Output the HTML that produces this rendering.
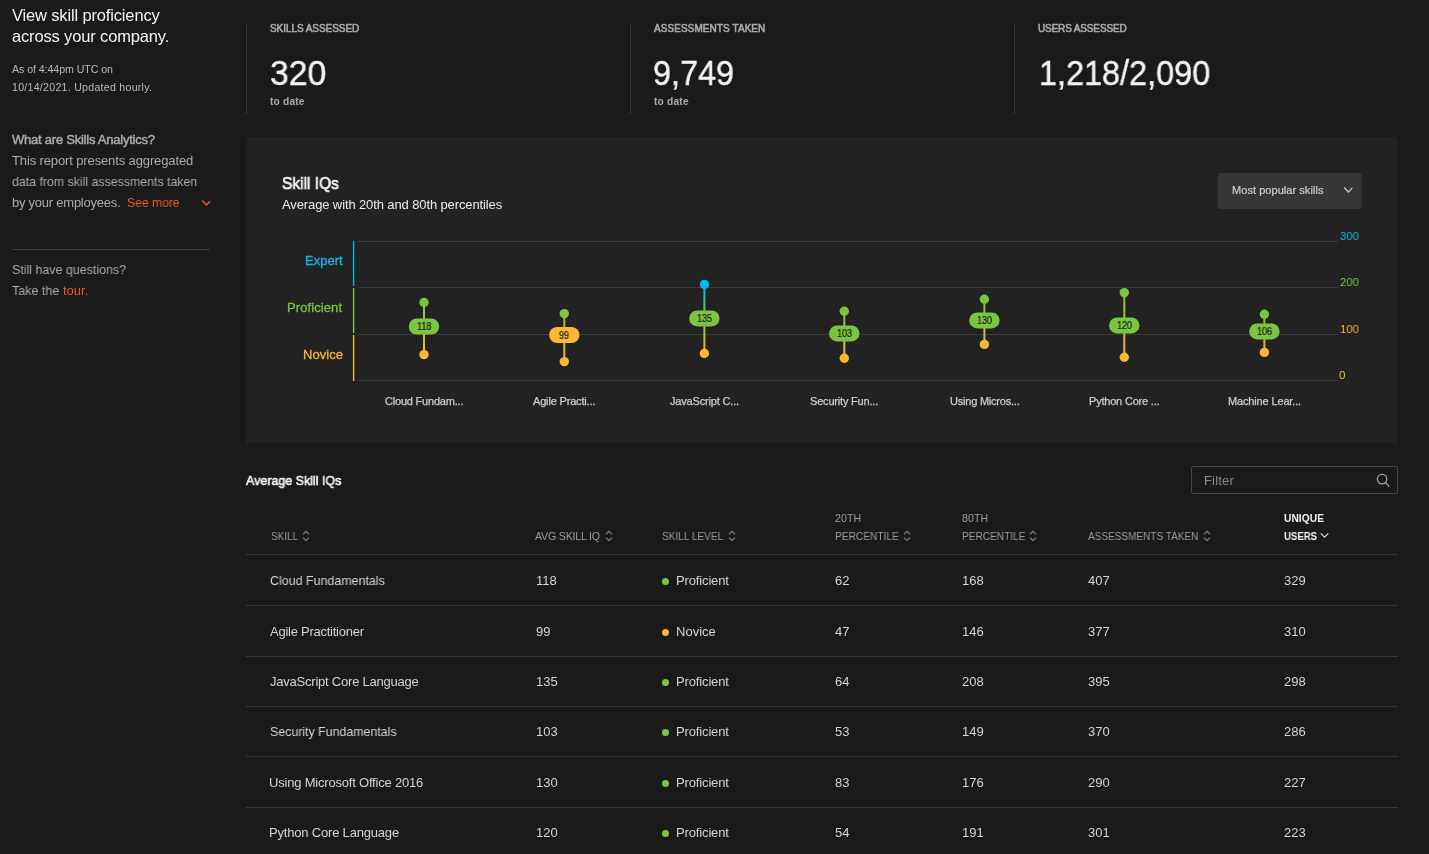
<!DOCTYPE html>
<html><head><meta charset="utf-8"><title>Skills Analytics</title>
<style>
html,body{margin:0;padding:0;background:#1a1a1a;width:1429px;height:854px;overflow:hidden;position:relative;font-family:"Liberation Sans",sans-serif}
.t{position:absolute;white-space:nowrap;will-change:transform}
</style></head><body>
<svg style="position:absolute;left:196px;top:194px" width="20" height="20" viewBox="0 0 20 20"><path d="M6.3 6.6 L10.4 10.9 L14 7.2" fill="none" stroke="#f05a28" stroke-width="1.5"/></svg><div style="position:absolute;left:12px;top:249px;width:198px;height:1px;background:#3d3d3d"></div><div style="position:absolute;left:246px;top:24px;width:1px;height:90px;background:#3a3a3a"></div><div style="position:absolute;left:630px;top:24px;width:1px;height:90px;background:#3a3a3a"></div><div style="position:absolute;left:1014px;top:24px;width:1px;height:90px;background:#3a3a3a"></div><div style="position:absolute;left:246px;top:137px;width:1152px;height:306px;background:#222222"></div><div style="position:absolute;left:1218px;top:173px;width:144px;height:36px;background:#363636;border-radius:2px"></div><svg style="position:absolute;left:1342px;top:185px" width="12" height="10" viewBox="0 0 12 10"><path d="M2.2 2.5 L6.4 7.1 L10.3 2.9" fill="none" stroke="#cfcfcf" stroke-width="1.3"/></svg><div style="position:absolute;left:358px;top:241px;width:980px;height:1px;background:#3b3b3b"></div><div style="position:absolute;left:358px;top:287px;width:980px;height:1px;background:#3b3b3b"></div><div style="position:absolute;left:358px;top:334px;width:980px;height:1px;background:#3b3b3b"></div><div style="position:absolute;left:358px;top:380px;width:980px;height:1px;background:#3b3b3b"></div><svg style="position:absolute;left:350px;top:238px" width="8" height="146"><rect x="2.9" y="3" width="1.4" height="45" fill="#00b6ef"/><rect x="2.9" y="50" width="1.4" height="45" fill="#7cc540"/><rect x="2.9" y="97" width="1.4" height="46" fill="#f9b733"/></svg><svg style="position:absolute;left:0;top:0" width="1429" height="854" viewBox="0 0 1429 854"><defs><linearGradient id="g0" x1="0" y1="302.5" x2="0" y2="354.6" gradientUnits="userSpaceOnUse"><stop offset="0" stop-color="#7cc540"/><stop offset="1" stop-color="#f9b733"/></linearGradient><linearGradient id="g1" x1="0" y1="313.6" x2="0" y2="361.6" gradientUnits="userSpaceOnUse"><stop offset="0" stop-color="#7cc540"/><stop offset="1" stop-color="#f9b733"/></linearGradient><linearGradient id="g2" x1="0" y1="284.4" x2="0" y2="353.4" gradientUnits="userSpaceOnUse"><stop offset="0" stop-color="#00b6ef"/><stop offset="0.5" stop-color="#7cc540"/><stop offset="1" stop-color="#f9b733"/></linearGradient><linearGradient id="g3" x1="0" y1="311.3" x2="0" y2="358.2" gradientUnits="userSpaceOnUse"><stop offset="0" stop-color="#7cc540"/><stop offset="1" stop-color="#f9b733"/></linearGradient><linearGradient id="g4" x1="0" y1="299.3" x2="0" y2="344.4" gradientUnits="userSpaceOnUse"><stop offset="0" stop-color="#7cc540"/><stop offset="1" stop-color="#f9b733"/></linearGradient><linearGradient id="g5" x1="0" y1="292.6" x2="0" y2="357.3" gradientUnits="userSpaceOnUse"><stop offset="0" stop-color="#7cc540"/><stop offset="1" stop-color="#f9b733"/></linearGradient><linearGradient id="g6" x1="0" y1="314.3" x2="0" y2="352.4" gradientUnits="userSpaceOnUse"><stop offset="0" stop-color="#7cc540"/><stop offset="1" stop-color="#f9b733"/></linearGradient></defs><rect x="423" y="302.5" width="2" height="52.10000000000002" fill="url(#g0)"/><circle cx="424" cy="302.5" r="4.7" fill="#7cc540"/><circle cx="424" cy="354.6" r="4.7" fill="#f9b733"/><rect x="408.8" y="318.5" width="30.4" height="16" rx="8" fill="#7cc540"/><rect x="563.3" y="313.6" width="2" height="48.0" fill="url(#g1)"/><circle cx="564.3" cy="313.6" r="4.7" fill="#7cc540"/><circle cx="564.3" cy="361.6" r="4.7" fill="#f9b733"/><rect x="549.0999999999999" y="327" width="30.4" height="16" rx="8" fill="#f9b733"/><rect x="703.4" y="284.4" width="2" height="69.0" fill="url(#g2)"/><circle cx="704.4" cy="284.4" r="4.7" fill="#00b6ef"/><circle cx="704.4" cy="353.4" r="4.7" fill="#f9b733"/><rect x="689.1999999999999" y="310.4" width="30.4" height="16" rx="8" fill="#7cc540"/><rect x="843.3" y="311.3" width="2" height="46.89999999999998" fill="url(#g3)"/><circle cx="844.3" cy="311.3" r="4.7" fill="#7cc540"/><circle cx="844.3" cy="358.2" r="4.7" fill="#f9b733"/><rect x="829.0999999999999" y="325.4" width="30.4" height="16" rx="8" fill="#7cc540"/><rect x="983.4" y="299.3" width="2" height="45.099999999999966" fill="url(#g4)"/><circle cx="984.4" cy="299.3" r="4.7" fill="#7cc540"/><circle cx="984.4" cy="344.4" r="4.7" fill="#f9b733"/><rect x="969.1999999999999" y="312.4" width="30.4" height="16" rx="8" fill="#7cc540"/><rect x="1123.3" y="292.6" width="2" height="64.69999999999999" fill="url(#g5)"/><circle cx="1124.3" cy="292.6" r="4.7" fill="#7cc540"/><circle cx="1124.3" cy="357.3" r="4.7" fill="#f9b733"/><rect x="1109.1" y="317.4" width="30.4" height="16" rx="8" fill="#7cc540"/><rect x="1263.4" y="314.3" width="2" height="38.099999999999966" fill="url(#g6)"/><circle cx="1264.4" cy="314.3" r="4.7" fill="#7cc540"/><circle cx="1264.4" cy="352.4" r="4.7" fill="#f9b733"/><rect x="1249.2" y="323.4" width="30.4" height="16" rx="8" fill="#7cc540"/></svg><div style="position:absolute;left:1191px;top:466px;width:205px;height:26px;border:1px solid #474747;border-radius:2px"></div><svg style="position:absolute;left:1372px;top:470px" width="20" height="20" viewBox="0 0 20 20"><circle cx="10.1" cy="9.1" r="4.7" fill="none" stroke="#a0a0a0" stroke-width="1.3"/><path d="M13.4 12.4 L17.2 16.6" stroke="#a0a0a0" stroke-width="1.4"/></svg><svg style="position:absolute;left:299.5px;top:526px" width="12" height="20" viewBox="0 0 12 20"><path d="M3.1 8.3 L6 5.2 L8.9 8.3 M3.1 11.8 L6 14.6 L8.9 11.8" fill="none" stroke="#747474" stroke-width="1.35"/></svg><svg style="position:absolute;left:602.5px;top:526px" width="12" height="20" viewBox="0 0 12 20"><path d="M3.1 8.3 L6 5.2 L8.9 8.3 M3.1 11.8 L6 14.6 L8.9 11.8" fill="none" stroke="#747474" stroke-width="1.35"/></svg><svg style="position:absolute;left:725.5px;top:526px" width="12" height="20" viewBox="0 0 12 20"><path d="M3.1 8.3 L6 5.2 L8.9 8.3 M3.1 11.8 L6 14.6 L8.9 11.8" fill="none" stroke="#747474" stroke-width="1.35"/></svg><svg style="position:absolute;left:900.5px;top:526px" width="12" height="20" viewBox="0 0 12 20"><path d="M3.1 8.3 L6 5.2 L8.9 8.3 M3.1 11.8 L6 14.6 L8.9 11.8" fill="none" stroke="#747474" stroke-width="1.35"/></svg><svg style="position:absolute;left:1027.3px;top:526px" width="12" height="20" viewBox="0 0 12 20"><path d="M3.1 8.3 L6 5.2 L8.9 8.3 M3.1 11.8 L6 14.6 L8.9 11.8" fill="none" stroke="#747474" stroke-width="1.35"/></svg><svg style="position:absolute;left:1200.5px;top:526px" width="12" height="20" viewBox="0 0 12 20"><path d="M3.1 8.3 L6 5.2 L8.9 8.3 M3.1 11.8 L6 14.6 L8.9 11.8" fill="none" stroke="#747474" stroke-width="1.35"/></svg><svg style="position:absolute;left:1319px;top:531px" width="11" height="9" viewBox="0 0 11 9"><path d="M1.7 2.3 L5.5 6.1 L9.3 2.3" fill="none" stroke="#d8d8d8" stroke-width="1.15"/></svg><div style="position:absolute;left:246px;top:554px;width:1152px;height:1px;background:#363636"></div><div style="position:absolute;left:246px;top:605px;width:1152px;height:1px;background:#363636"></div><div style="position:absolute;left:246px;top:656px;width:1152px;height:1px;background:#363636"></div><div style="position:absolute;left:246px;top:706px;width:1152px;height:1px;background:#363636"></div><div style="position:absolute;left:246px;top:756px;width:1152px;height:1px;background:#363636"></div><div style="position:absolute;left:246px;top:807px;width:1152px;height:1px;background:#363636"></div><div style="position:absolute;left:661.8px;top:577.9px;width:7.2px;height:7.2px;border-radius:50%;background:#7cc540"></div><div style="position:absolute;left:661.8px;top:628.7px;width:7.2px;height:7.2px;border-radius:50%;background:#f9b733"></div><div style="position:absolute;left:661.8px;top:679.1px;width:7.2px;height:7.2px;border-radius:50%;background:#7cc540"></div><div style="position:absolute;left:661.8px;top:729.2px;width:7.2px;height:7.2px;border-radius:50%;background:#7cc540"></div><div style="position:absolute;left:661.8px;top:779.8px;width:7.2px;height:7.2px;border-radius:50%;background:#7cc540"></div><div style="position:absolute;left:661.8px;top:830.2px;width:7.2px;height:7.2px;border-radius:50%;background:#7cc540"></div>
<div class="t" style="left:12.00px;top:6.47px;font-size:16.5px;line-height:18.430px;font-weight:400;color:#f3f3f3;letter-spacing:-0.155px">View skill proficiency</div><div class="t" style="left:12.00px;top:27.47px;font-size:16.5px;line-height:18.430px;font-weight:400;color:#f3f3f3;letter-spacing:-0.152px">across your company.</div><div class="t" style="left:12.00px;top:64.11px;font-size:10.6px;line-height:11.840px;font-weight:400;color:#b9b9b9;letter-spacing:-0.054px">As of 4:44pm UTC on</div><div class="t" style="left:12.00px;top:81.81px;font-size:10.6px;line-height:11.840px;font-weight:400;color:#b9b9b9;letter-spacing:0.270px">10/14/2021. Updated hourly.</div><div class="t" style="left:12.00px;top:132.84px;font-size:13px;line-height:14.521px;font-weight:400;color:#ababab;letter-spacing:-0.233px;-webkit-text-stroke:0.45px #ababab">What are Skills Analytics?</div><div class="t" style="left:12.00px;top:153.74px;font-size:13px;line-height:14.521px;font-weight:400;color:#ababab;letter-spacing:-0.126px">This report presents aggregated</div><div class="t" style="left:12.00px;top:174.84px;font-size:13px;line-height:14.521px;font-weight:400;color:#ababab;letter-spacing:0.000px;transform:scaleX(0.9495);transform-origin:0 0">data from skill assessments taken</div><div class="t" style="left:12.00px;top:195.63px;font-size:13px;line-height:14.521px;font-weight:400;color:#ababab;letter-spacing:-0.242px">by your employees.</div><div class="t" style="left:126.80px;top:196.00px;font-size:12.6px;line-height:14.074px;font-weight:400;color:#f05a28;letter-spacing:0.000px;transform:scaleX(0.9616);transform-origin:0 0">See more</div><div class="t" style="left:12.30px;top:263.04px;font-size:13px;line-height:14.521px;font-weight:400;color:#ababab;letter-spacing:0.000px;transform:scaleX(0.9571);transform-origin:0 0">Still have questions?</div><div class="t" style="left:12.30px;top:283.74px;font-size:13px;line-height:14.521px;font-weight:400;color:#ababab;letter-spacing:0.000px;transform:scaleX(0.9609);transform-origin:0 0">Take the</div><div class="t" style="left:63.10px;top:283.74px;font-size:13px;line-height:14.521px;font-weight:400;color:#f05a28;letter-spacing:0.004px">tour.</div><div class="t" style="left:270.00px;top:22.65px;font-size:10px;line-height:11.170px;font-weight:400;color:#ababab;letter-spacing:-0.056px;-webkit-text-stroke:0.55px #ababab">SKILLS ASSESSED</div><div class="t" style="left:269.74px;top:53.12px;font-size:35px;line-height:39.095px;font-weight:400;color:#f3f3f3;letter-spacing:0.000px;-webkit-text-stroke:0.4px #f3f3f3;transform:scaleX(0.9626);transform-origin:0 0">320</div><div class="t" style="left:270.00px;top:96.17px;font-size:10.2px;line-height:11.393px;font-weight:700;color:#ababab;letter-spacing:0.179px">to date</div><div class="t" style="left:654.20px;top:22.65px;font-size:10px;line-height:11.170px;font-weight:400;color:#ababab;letter-spacing:0.070px;-webkit-text-stroke:0.55px #ababab">ASSESSMENTS TAKEN</div><div class="t" style="left:653.47px;top:53.12px;font-size:35px;line-height:39.095px;font-weight:400;color:#f3f3f3;letter-spacing:0.000px;-webkit-text-stroke:0.4px #f3f3f3;transform:scaleX(0.9258);transform-origin:0 0">9,749</div><div class="t" style="left:654.00px;top:96.17px;font-size:10.2px;line-height:11.393px;font-weight:700;color:#ababab;letter-spacing:0.195px">to date</div><div class="t" style="left:1038.20px;top:22.65px;font-size:10px;line-height:11.170px;font-weight:400;color:#ababab;letter-spacing:-0.148px;-webkit-text-stroke:0.55px #ababab">USERS ASSESSED</div><div class="t" style="left:1038.75px;top:53.12px;font-size:35px;line-height:39.095px;font-weight:400;color:#f3f3f3;letter-spacing:0.000px;-webkit-text-stroke:0.4px #f3f3f3;transform:scaleX(0.9258);transform-origin:0 0">1,218/2,090</div><div class="t" style="left:282.40px;top:173.87px;font-size:16.5px;line-height:18.430px;font-weight:400;color:#f3f3f3;letter-spacing:0.000px;-webkit-text-stroke:0.7px #f3f3f3;transform:scaleX(0.9393);transform-origin:0 0">Skill IQs</div><div class="t" style="left:282.40px;top:198.13px;font-size:13px;line-height:14.521px;font-weight:400;color:#ececec;letter-spacing:-0.117px">Average with 20th and 80th percentiles</div><div class="t" style="left:1231.80px;top:184.44px;font-size:11px;line-height:12.287px;font-weight:400;color:#cfcfcf;letter-spacing:0.051px;-webkit-text-stroke:0.2px #cfcfcf">Most popular skills</div><div class="t" style="left:304.80px;top:254.24px;font-size:13px;line-height:14.521px;font-weight:400;color:#14b6ee;letter-spacing:0.008px;-webkit-text-stroke:0.3px #14b6ee">Expert</div><div class="t" style="left:287.40px;top:301.04px;font-size:13px;line-height:14.521px;font-weight:400;color:#7dc243;letter-spacing:0.091px;-webkit-text-stroke:0.3px #7dc243">Proficient</div><div class="t" style="left:303.00px;top:347.94px;font-size:13px;line-height:14.521px;font-weight:400;color:#f6b632;letter-spacing:0.059px;-webkit-text-stroke:0.3px #f6b632">Novice</div><div class="t" style="left:1339.70px;top:230.30px;font-size:11.6px;line-height:12.957px;font-weight:400;color:#14b6ee;letter-spacing:0.000px;transform:scaleX(0.9685);transform-origin:0 0">300</div><div class="t" style="left:1339.70px;top:276.30px;font-size:11.6px;line-height:12.957px;font-weight:400;color:#7dc243;letter-spacing:0.000px;transform:scaleX(0.9685);transform-origin:0 0">200</div><div class="t" style="left:1339.70px;top:323.10px;font-size:11.6px;line-height:12.957px;font-weight:400;color:#f6b632;letter-spacing:0.000px;transform:scaleX(0.9685);transform-origin:0 0">100</div><div class="t" style="left:1338.80px;top:369.10px;font-size:11.6px;line-height:12.957px;font-weight:400;color:#f6b632;letter-spacing:0.000px">0</div><div class="t" style="left:416.70px;top:321.39px;font-size:10.4px;line-height:11.617px;font-weight:400;color:#1a1a1a;letter-spacing:0.000px;-webkit-text-stroke:0.2px #1a1a1a;transform:scaleX(0.8698);transform-origin:0 0">118</div><div class="t" style="left:384.80px;top:395.25px;font-size:11px;line-height:12.287px;font-weight:400;color:#cecece;letter-spacing:-0.204px;-webkit-text-stroke:0.25px #cecece">Cloud Fundam...</div><div class="t" style="left:559.25px;top:329.89px;font-size:10.4px;line-height:11.617px;font-weight:400;color:#1a1a1a;letter-spacing:0.000px;-webkit-text-stroke:0.2px #1a1a1a;transform:scaleX(0.8575);transform-origin:0 0">99</div><div class="t" style="left:533.10px;top:395.25px;font-size:11px;line-height:12.287px;font-weight:400;color:#cecece;letter-spacing:-0.168px;-webkit-text-stroke:0.25px #cecece">Agile Practi...</div><div class="t" style="left:696.80px;top:313.29px;font-size:10.4px;line-height:11.617px;font-weight:400;color:#1a1a1a;letter-spacing:0.000px;-webkit-text-stroke:0.2px #1a1a1a;transform:scaleX(0.8657);transform-origin:0 0">135</div><div class="t" style="left:669.85px;top:395.25px;font-size:11px;line-height:12.287px;font-weight:400;color:#cecece;letter-spacing:-0.169px;-webkit-text-stroke:0.25px #cecece">JavaScript C...</div><div class="t" style="left:836.70px;top:328.29px;font-size:10.4px;line-height:11.617px;font-weight:400;color:#1a1a1a;letter-spacing:0.000px;-webkit-text-stroke:0.2px #1a1a1a;transform:scaleX(0.8657);transform-origin:0 0">103</div><div class="t" style="left:810.20px;top:395.25px;font-size:11px;line-height:12.287px;font-weight:400;color:#cecece;letter-spacing:-0.190px;-webkit-text-stroke:0.25px #cecece">Security Fun...</div><div class="t" style="left:976.80px;top:315.29px;font-size:10.4px;line-height:11.617px;font-weight:400;color:#1a1a1a;letter-spacing:0.000px;-webkit-text-stroke:0.2px #1a1a1a;transform:scaleX(0.8657);transform-origin:0 0">130</div><div class="t" style="left:949.55px;top:395.25px;font-size:11px;line-height:12.287px;font-weight:400;color:#cecece;letter-spacing:-0.213px;-webkit-text-stroke:0.25px #cecece">Using Micros...</div><div class="t" style="left:1116.70px;top:320.29px;font-size:10.4px;line-height:11.617px;font-weight:400;color:#1a1a1a;letter-spacing:0.000px;-webkit-text-stroke:0.2px #1a1a1a;transform:scaleX(0.8657);transform-origin:0 0">120</div><div class="t" style="left:1089.05px;top:395.25px;font-size:11px;line-height:12.287px;font-weight:400;color:#cecece;letter-spacing:-0.201px;-webkit-text-stroke:0.25px #cecece">Python Core ...</div><div class="t" style="left:1256.80px;top:326.29px;font-size:10.4px;line-height:11.617px;font-weight:400;color:#1a1a1a;letter-spacing:0.000px;-webkit-text-stroke:0.2px #1a1a1a;transform:scaleX(0.8657);transform-origin:0 0">106</div><div class="t" style="left:1227.85px;top:395.25px;font-size:11px;line-height:12.287px;font-weight:400;color:#cecece;letter-spacing:-0.147px;-webkit-text-stroke:0.25px #cecece">Machine Lear...</div><div class="t" style="left:246.20px;top:474.24px;font-size:13px;line-height:14.521px;font-weight:400;color:#f3f3f3;letter-spacing:0.000px;-webkit-text-stroke:0.6px #f3f3f3;transform:scaleX(0.9593);transform-origin:0 0">Average Skill IQs</div><div class="t" style="left:1204.40px;top:473.64px;font-size:13px;line-height:14.521px;font-weight:400;color:#8a8a8a;letter-spacing:0.168px">Filter</div><div class="t" style="left:270.80px;top:531.01px;font-size:10.6px;line-height:11.840px;font-weight:400;color:#9b9b9b;letter-spacing:0.000px;transform:scaleX(0.9390);transform-origin:0 0">SKILL</div><div class="t" style="left:535.10px;top:531.01px;font-size:10.6px;line-height:11.840px;font-weight:400;color:#9b9b9b;letter-spacing:-0.189px">AVG SKILL IQ</div><div class="t" style="left:661.90px;top:531.01px;font-size:10.6px;line-height:11.840px;font-weight:400;color:#9b9b9b;letter-spacing:0.000px;transform:scaleX(0.9508);transform-origin:0 0">SKILL LEVEL</div><div class="t" style="left:834.70px;top:513.21px;font-size:10.6px;line-height:11.840px;font-weight:400;color:#9b9b9b;letter-spacing:0.082px">20TH</div><div class="t" style="left:834.70px;top:531.41px;font-size:10.6px;line-height:11.840px;font-weight:400;color:#9b9b9b;letter-spacing:0.000px;transform:scaleX(0.9585);transform-origin:0 0">PERCENTILE</div><div class="t" style="left:961.50px;top:513.21px;font-size:10.6px;line-height:11.840px;font-weight:400;color:#9b9b9b;letter-spacing:0.082px">80TH</div><div class="t" style="left:961.50px;top:531.41px;font-size:10.6px;line-height:11.840px;font-weight:400;color:#9b9b9b;letter-spacing:0.000px;transform:scaleX(0.9525);transform-origin:0 0">PERCENTILE</div><div class="t" style="left:1088.30px;top:531.01px;font-size:10.6px;line-height:11.840px;font-weight:400;color:#9b9b9b;letter-spacing:0.000px;transform:scaleX(0.9450);transform-origin:0 0">ASSESSMENTS TAKEN</div><div class="t" style="left:1283.80px;top:513.47px;font-size:10.2px;line-height:11.393px;font-weight:700;color:#f3f3f3;letter-spacing:0.075px">UNIQUE</div><div class="t" style="left:1283.80px;top:531.37px;font-size:10.2px;line-height:11.393px;font-weight:700;color:#f3f3f3;letter-spacing:0.000px;transform:scaleX(0.9404);transform-origin:0 0">USERS</div><div class="t" style="left:269.80px;top:573.93px;font-size:13px;line-height:14.521px;font-weight:400;color:#d4d4d4;letter-spacing:0.000px;transform:scaleX(0.9572);transform-origin:0 0">Cloud Fundamentals</div><div class="t" style="left:535.50px;top:573.93px;font-size:13px;line-height:14.521px;font-weight:400;color:#d4d4d4;letter-spacing:0.000px">118</div><div class="t" style="left:675.50px;top:573.93px;font-size:13px;line-height:14.521px;font-weight:400;color:#d4d4d4;letter-spacing:-0.142px">Proficient</div><div class="t" style="left:834.70px;top:573.93px;font-size:13px;line-height:14.521px;font-weight:400;color:#d4d4d4;letter-spacing:0.000px">62</div><div class="t" style="left:961.50px;top:573.93px;font-size:13px;line-height:14.521px;font-weight:400;color:#d4d4d4;letter-spacing:0.000px">168</div><div class="t" style="left:1088.30px;top:573.93px;font-size:13px;line-height:14.521px;font-weight:400;color:#d4d4d4;letter-spacing:0.000px">407</div><div class="t" style="left:1283.80px;top:573.93px;font-size:13px;line-height:14.521px;font-weight:400;color:#d4d4d4;letter-spacing:0.000px">329</div><div class="t" style="left:269.80px;top:624.74px;font-size:13px;line-height:14.521px;font-weight:400;color:#d4d4d4;letter-spacing:-0.249px">Agile Practitioner</div><div class="t" style="left:535.50px;top:624.74px;font-size:13px;line-height:14.521px;font-weight:400;color:#d4d4d4;letter-spacing:0.000px">99</div><div class="t" style="left:675.50px;top:624.74px;font-size:13px;line-height:14.521px;font-weight:400;color:#d4d4d4;letter-spacing:0.019px">Novice</div><div class="t" style="left:834.70px;top:624.74px;font-size:13px;line-height:14.521px;font-weight:400;color:#d4d4d4;letter-spacing:0.000px">47</div><div class="t" style="left:961.50px;top:624.74px;font-size:13px;line-height:14.521px;font-weight:400;color:#d4d4d4;letter-spacing:0.000px">146</div><div class="t" style="left:1088.30px;top:624.74px;font-size:13px;line-height:14.521px;font-weight:400;color:#d4d4d4;letter-spacing:0.000px">377</div><div class="t" style="left:1283.80px;top:624.74px;font-size:13px;line-height:14.521px;font-weight:400;color:#d4d4d4;letter-spacing:0.000px">310</div><div class="t" style="left:269.80px;top:675.13px;font-size:13px;line-height:14.521px;font-weight:400;color:#d4d4d4;letter-spacing:-0.222px">JavaScript Core Language</div><div class="t" style="left:535.50px;top:675.13px;font-size:13px;line-height:14.521px;font-weight:400;color:#d4d4d4;letter-spacing:0.000px">135</div><div class="t" style="left:675.50px;top:675.13px;font-size:13px;line-height:14.521px;font-weight:400;color:#d4d4d4;letter-spacing:-0.142px">Proficient</div><div class="t" style="left:834.70px;top:675.13px;font-size:13px;line-height:14.521px;font-weight:400;color:#d4d4d4;letter-spacing:0.000px">64</div><div class="t" style="left:961.50px;top:675.13px;font-size:13px;line-height:14.521px;font-weight:400;color:#d4d4d4;letter-spacing:0.000px">208</div><div class="t" style="left:1088.30px;top:675.13px;font-size:13px;line-height:14.521px;font-weight:400;color:#d4d4d4;letter-spacing:0.000px">395</div><div class="t" style="left:1283.80px;top:675.13px;font-size:13px;line-height:14.521px;font-weight:400;color:#d4d4d4;letter-spacing:0.000px">298</div><div class="t" style="left:269.80px;top:725.24px;font-size:13px;line-height:14.521px;font-weight:400;color:#d4d4d4;letter-spacing:0.000px;transform:scaleX(0.9517);transform-origin:0 0">Security Fundamentals</div><div class="t" style="left:535.50px;top:725.24px;font-size:13px;line-height:14.521px;font-weight:400;color:#d4d4d4;letter-spacing:0.000px">103</div><div class="t" style="left:675.50px;top:725.24px;font-size:13px;line-height:14.521px;font-weight:400;color:#d4d4d4;letter-spacing:-0.142px">Proficient</div><div class="t" style="left:834.70px;top:725.24px;font-size:13px;line-height:14.521px;font-weight:400;color:#d4d4d4;letter-spacing:0.000px">53</div><div class="t" style="left:961.50px;top:725.24px;font-size:13px;line-height:14.521px;font-weight:400;color:#d4d4d4;letter-spacing:0.000px">149</div><div class="t" style="left:1088.30px;top:725.24px;font-size:13px;line-height:14.521px;font-weight:400;color:#d4d4d4;letter-spacing:0.000px">370</div><div class="t" style="left:1283.80px;top:725.24px;font-size:13px;line-height:14.521px;font-weight:400;color:#d4d4d4;letter-spacing:0.000px">286</div><div class="t" style="left:268.80px;top:775.83px;font-size:13px;line-height:14.521px;font-weight:400;color:#d4d4d4;letter-spacing:-0.200px">Using Microsoft Office 2016</div><div class="t" style="left:535.50px;top:775.83px;font-size:13px;line-height:14.521px;font-weight:400;color:#d4d4d4;letter-spacing:0.000px">130</div><div class="t" style="left:675.50px;top:775.83px;font-size:13px;line-height:14.521px;font-weight:400;color:#d4d4d4;letter-spacing:-0.142px">Proficient</div><div class="t" style="left:834.70px;top:775.83px;font-size:13px;line-height:14.521px;font-weight:400;color:#d4d4d4;letter-spacing:0.000px">83</div><div class="t" style="left:961.50px;top:775.83px;font-size:13px;line-height:14.521px;font-weight:400;color:#d4d4d4;letter-spacing:0.000px">176</div><div class="t" style="left:1088.30px;top:775.83px;font-size:13px;line-height:14.521px;font-weight:400;color:#d4d4d4;letter-spacing:0.000px">290</div><div class="t" style="left:1283.80px;top:775.83px;font-size:13px;line-height:14.521px;font-weight:400;color:#d4d4d4;letter-spacing:0.000px">227</div><div class="t" style="left:268.80px;top:826.24px;font-size:13px;line-height:14.521px;font-weight:400;color:#d4d4d4;letter-spacing:-0.189px">Python Core Language</div><div class="t" style="left:535.50px;top:826.24px;font-size:13px;line-height:14.521px;font-weight:400;color:#d4d4d4;letter-spacing:0.000px">120</div><div class="t" style="left:675.50px;top:826.24px;font-size:13px;line-height:14.521px;font-weight:400;color:#d4d4d4;letter-spacing:-0.142px">Proficient</div><div class="t" style="left:834.70px;top:826.24px;font-size:13px;line-height:14.521px;font-weight:400;color:#d4d4d4;letter-spacing:0.000px">54</div><div class="t" style="left:961.50px;top:826.24px;font-size:13px;line-height:14.521px;font-weight:400;color:#d4d4d4;letter-spacing:0.000px">191</div><div class="t" style="left:1088.30px;top:826.24px;font-size:13px;line-height:14.521px;font-weight:400;color:#d4d4d4;letter-spacing:0.000px">301</div><div class="t" style="left:1283.80px;top:826.24px;font-size:13px;line-height:14.521px;font-weight:400;color:#d4d4d4;letter-spacing:0.000px">223</div>
</body></html>
